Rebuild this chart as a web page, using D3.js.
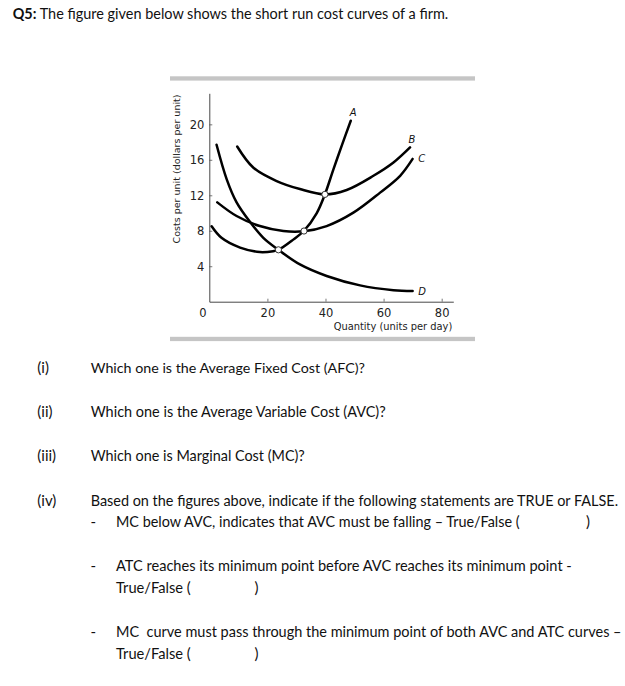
<!DOCTYPE html>
<html>
<head>
<meta charset="utf-8">
<script src="https://cdn.jsdelivr.net/npm/d3@7"></script>
<style>
  html, body { margin: 0; padding: 0; background: #fff; }
  svg { display: block; }
  text { white-space: pre; }
</style>
</head>
<body>
<svg id="page" width="625" height="686"></svg>
<script>
// ---------- data ----------
const title = ["Q5:", " The figure given below shows the short run cost curves of a firm."];
const questionLabels = ["(i)", "(ii)", "(iii)", "(iv)"];
const questions = [
  "Which one is the Average Fixed Cost (AFC)?",
  "Which one is the Average Variable Cost (AVC)?",
  "Which one is Marginal Cost (MC)?",
  "Based on the figures above, indicate if the following statements are TRUE or FALSE."
];
const statements = [
  "MC below AVC, indicates that AVC must be falling \u2013 True/False (",
  "ATC reaches its minimum point before AVC reaches its minimum point -",
  "MC  curve must pass through the minimum point of both AVC and ATC curves \u2013"
];
const answerText = "True/False (";

const xTicks = [0, 20, 40, 60, 80];
const yTicks = [4, 8, 12, 16, 20];
const xLabel = "Quantity (units per day)";
const yLabel = "Costs per unit (dollars per unit)";

const curveNames = ["A", "B", "C", "D"];
// A: marginal cost
const aX = [0.8, 4.2, 10.6, 17.4, 22.0, 23.8, 28.9, 32.6, 37.0, 39.8, 42.7, 45.6, 48.7];
const aY = [8.5, 7.2, 6.1, 5.6, 5.7, 5.85, 7.0, 8.0, 10.0, 12.1, 14.9, 17.6, 20.4];
// B: average total cost
const bX = [9.6, 15.2, 23.2, 31.2, 39.8, 47.3, 56.5, 63.4, 69.1];
const bY = [17.5, 15.1, 13.6, 12.7, 12.1, 12.6, 14.2, 15.7, 17.4];
// C: average variable cost
const cX = [2.75, 9.4, 17.4, 25.5, 32.6, 40.4, 49.6, 58.8, 65.7, 70.0];
const cY = [11.2, 9.66, 8.53, 7.97, 7.95, 8.53, 10.04, 12.3, 14.2, 16.1];
// D: average fixed cost
const dX = [2.5, 6.0, 9.4, 14.0, 18.6, 23.8, 31.2, 40.4, 51.9, 63.4, 70.0];
const dY = [17.7, 13.8, 11.2, 9.0, 7.2, 5.85, 4.2, 2.9, 1.84, 1.3, 1.2];
// marked intersection points
const markX = [23.8, 32.6, 39.8];
const markY = [5.85, 7.97, 12.1];

// ---------- layout ----------
const svg = d3.select("#page");
const bodyFont = "Lato, 'Open Sans', sans-serif";
const chartFont = "'DejaVu Sans', Lato, sans-serif";
const ink = "#111";

// scale font-size so the natural text width equals the target width
function fitFont(sel, target) {
  const base = +sel.attr("font-size");
  const w = sel.node().getComputedTextLength();
  if (w > 0) sel.attr("font-size", (base * target / w).toFixed(2));
  return sel;
}
function bodyText(xp, yp, str) {
  return svg.append("text").attr("x", xp).attr("y", yp).attr("font-family", bodyFont)
    .attr("font-size", 15).attr("fill", ink).text(str);
}

// Title
const t = svg.append("text").attr("x", 12.7).attr("y", 18.5)
  .attr("font-family", bodyFont).attr("font-size", 15).attr("fill", ink);
t.append("tspan").attr("font-weight", "bold").text(title[0]);
t.append("tspan").text(title[1]);
fitFont(t, 436);

// ---------- chart ----------
const x = d3.scaleLinear().domain([0, 84]).range([209.3, 453.3]);
const y = d3.scaleLinear().domain([0, 23.5]).range([301.7, 93.3]);

// gray rules
svg.append("rect").attr("x", 170).attr("y", 76.3).attr("width", 305).attr("height", 4.3).attr("fill", "#c5c5c5");
svg.append("rect").attr("x", 170).attr("y", 336.8).attr("width", 305).attr("height", 4.3).attr("fill", "#c5c5c5");

const g = svg.append("g");

// y axis
const yAxis = g.append("g").attr("transform", `translate(${x(0)},0)`)
  .call(d3.axisLeft(y).tickValues(yTicks).tickSizeInner(-3).tickSizeOuter(0).tickPadding(5));
// x axis
const xAxis = g.append("g").attr("transform", `translate(0,${y(0)})`)
  .call(d3.axisBottom(x).tickValues(xTicks).tickSizeInner(-3).tickSizeOuter(0).tickPadding(7));

[yAxis, xAxis].forEach(ax => {
  ax.select(".domain").attr("stroke", "#333").attr("stroke-width", 0.9);
  ax.selectAll(".tick line").attr("stroke", "#555").attr("stroke-width", 0.8);
  ax.selectAll(".tick text").attr("font-family", chartFont).attr("font-size", 11.5).attr("fill", "#222");
});
yAxis.selectAll(".tick text").attr("dy", "0.36em");
xAxis.selectAll(".tick").filter(d => d === 0).select("line").remove();
xAxis.selectAll(".tick").filter(d => d === 0).select("text").attr("dx", -7);

// axis titles
const xt = g.append("text").attr("x", 452.3).attr("y", 330).attr("text-anchor", "end")
  .attr("font-family", chartFont).attr("font-size", 10).attr("fill", "#222").text(xLabel);
fitFont(xt, 119);
const yt = g.append("text").attr("transform", `translate(179.5,169) rotate(-90)`).attr("text-anchor", "middle")
  .attr("font-family", chartFont).attr("font-size", 10).attr("fill", "#222").text(yLabel);
fitFont(yt, 149);

// curves
const line = d3.line().x(d => x(d[0])).y(d => y(d[1])).curve(d3.curveCatmullRom.alpha(0.5));
const series = [
  { name: curveNames[0], xs: aX, ys: aY, dx: 2.5, dy: -4.5, anchor: "middle" },
  { name: curveNames[1], xs: bX, ys: bY, dx: 2, dy: -4, anchor: "middle" },
  { name: curveNames[2], xs: cX, ys: cY, dx: 5.5, dy: 3, anchor: "start" },
  { name: curveNames[3], xs: dX, ys: dY, dx: 5.5, dy: 3.5, anchor: "start" }
];
series.forEach(s => {
  const pts = s.xs.map((v, i) => [v, s.ys[i]]);
  g.append("path").attr("d", line(pts)).attr("fill", "none")
    .attr("stroke", "#000").attr("stroke-width", 2.5).attr("stroke-linecap", "round");
  const last = pts[pts.length - 1];
  g.append("text").attr("x", x(last[0]) + s.dx).attr("y", y(last[1]) + s.dy)
    .attr("text-anchor", s.anchor).attr("font-family", chartFont).attr("font-style", "italic")
    .attr("font-size", 10).attr("fill", "#111").text(s.name);
});

// intersection markers
g.selectAll("circle.mark").data(markX.map((v, i) => [v, markY[i]])).join("circle")
  .attr("class", "mark").attr("cx", d => x(d[0])).attr("cy", d => y(d[1])).attr("r", 3.1)
  .attr("fill", "#fff").attr("stroke", "#333").attr("stroke-width", 1);

// ---------- questions ----------
const qBase = [373.3, 417.3, 461, 505.7];
const qEnd = [365, 386, 305, 618.3];
questionLabels.forEach((lab, i) => {
  bodyText(37.3, qBase[i], lab);
  fitFont(bodyText(90.7, qBase[i], questions[i]), qEnd[i] - 90.7);
});

const sBase = [526.7, 570.7, 636.7];
const sEnd = [520, 571.7, 621.7];
statements.forEach((s, i) => {
  bodyText(90.5, sBase[i], "-");
  fitFont(bodyText(116, sBase[i], s), sEnd[i] - 116);
});
// closing bracket on first statement
bodyText(586, sBase[0], ")");
// answer lines for statements 2 and 3
[593.3, 659].forEach(b => {
  fitFont(bodyText(116, b, answerText), 190.7 - 116);
  bodyText(254.5, b, ")");
});
</script>
</body>
</html>
